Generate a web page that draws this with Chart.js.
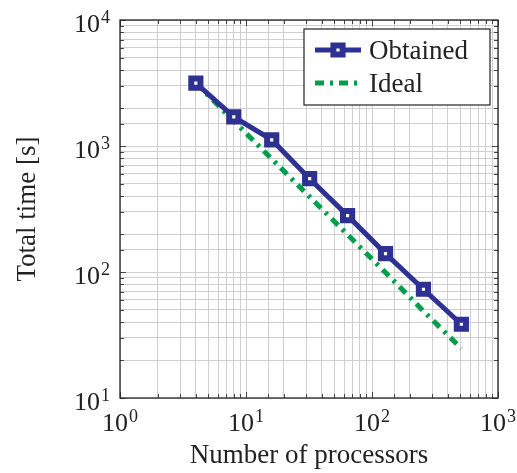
<!DOCTYPE html>
<html>
<head>
<meta charset="utf-8">
<script src="https://cdn.jsdelivr.net/npm/chart.js@4"></script>
<style>
  html, body { margin: 0; padding: 0; background: #fff; }
</style>
</head>
<body>
<canvas id="myChart" width="517" height="473"></canvas>
<script>
// run times (s) for each processor count
const processors = [4, 8, 16, 32, 64, 128, 256, 512];
const obtainedTime = [3160, 1700, 1120, 550, 280, 140, 73, 38.5];
const idealTime = [3160, 1580, 790, 395, 198, 99, 49, 24.7];

// decades that get a 10^n label
const xDecades = [1, 10, 100, 1000];
const yDecades = [10, 100, 1000, 10000];

const BLUE = "rgb(46, 49, 146)";
const GREEN = "rgb(0, 158, 74)";
const FONT = "'Liberation Serif', 'DejaVu Serif', serif";

const toPoints = (ys) => processors.map((p, i) => ({ x: p, y: ys[i] }));

// black frame plus short inward ticks on every side
const framePlugin = {
  id: "frame",
  beforeDatasetsDraw(chart) {
    const { ctx, chartArea: a, scales } = chart;
    ctx.save();
    ctx.strokeStyle = "#444";
    ctx.lineWidth = 1;
    ctx.beginPath();
    scales.x.ticks.forEach((t) => {
      const px = Math.round(scales.x.getPixelForValue(t.value)) + 0.5;
      const len = xDecades.includes(t.value) ? 6 : 4;
      ctx.moveTo(px, a.bottom); ctx.lineTo(px, a.bottom - len);
      ctx.moveTo(px, a.top); ctx.lineTo(px, a.top + len);
    });
    scales.y.ticks.forEach((t) => {
      const py = Math.round(scales.y.getPixelForValue(t.value)) + 0.5;
      const len = yDecades.includes(t.value) ? 6 : 4;
      ctx.moveTo(a.left, py); ctx.lineTo(a.left + len, py);
      ctx.moveTo(a.right, py); ctx.lineTo(a.right - len, py);
    });
    ctx.stroke();
    ctx.strokeStyle = "#222";
    ctx.lineWidth = 1.3;
    ctx.strokeRect(a.left, a.top, a.right - a.left, a.bottom - a.top);
    ctx.restore();
  },
};

// 10^n tick labels with a raised exponent
function drawPower(ctx, x, y, exp, align) {
  ctx.font = "26px " + FONT;
  const baseW = ctx.measureText("10").width;
  ctx.font = "18px " + FONT;
  const supW = ctx.measureText(String(exp)).width;
  const total = baseW + supW + 1;
  let left = x;
  if (align === "center") left = x - total / 2;
  if (align === "right") left = x - total;
  ctx.textAlign = "left";
  ctx.textBaseline = "alphabetic";
  ctx.font = "26px " + FONT;
  ctx.fillText("10", left, y);
  ctx.font = "18px " + FONT;
  ctx.fillText(String(exp), left + baseW + 1, y - 9);
}

const powerLabels = {
  id: "powerLabels",
  afterDraw(chart) {
    const { ctx, chartArea: a, scales } = chart;
    ctx.save();
    ctx.fillStyle = "#222";
    xDecades.forEach((v) => {
      drawPower(ctx, scales.x.getPixelForValue(v), a.bottom + 33, Math.round(Math.log10(v)), "center");
    });
    yDecades.forEach((v) => {
      drawPower(ctx, a.left - 10, scales.y.getPixelForValue(v) + 12, Math.round(Math.log10(v)), "right");
    });
    ctx.restore();
  },
};

// boxed legend in the upper right of the plot
const boxLegend = {
  id: "boxLegend",
  afterDraw(chart) {
    const { ctx } = chart;
    const box = { x: 304, y: 29, w: 186, h: 76 };
    ctx.save();
    ctx.fillStyle = "#fff";
    ctx.fillRect(box.x, box.y, box.w, box.h);
    ctx.strokeStyle = "#222";
    ctx.lineWidth = 1.2;
    ctx.strokeRect(box.x, box.y, box.w, box.h);
    chart.data.datasets.forEach((ds, i) => {
      const cy = box.y + 21 + i * 33;
      ctx.strokeStyle = ds.borderColor;
      ctx.lineWidth = ds.borderWidth;
      ctx.setLineDash(ds.borderDash || []);
      ctx.beginPath();
      ctx.moveTo(box.x + 11, cy);
      ctx.lineTo(box.x + 57, cy);
      ctx.stroke();
      ctx.setLineDash([]);
      if (ds.pointRadius > 0) {
        ctx.fillStyle = ds.pointBackgroundColor;
        ctx.strokeStyle = ds.pointBorderColor;
        ctx.lineWidth = ds.pointBorderWidth;
        Chart.helpers.drawPoint(ctx, {
          pointStyle: ds.pointStyle,
          radius: ds.pointRadius,
          borderWidth: ds.pointBorderWidth,
        }, box.x + 34, cy);
      }
      ctx.fillStyle = "#222";
      ctx.font = "27px " + FONT;
      ctx.textAlign = "left";
      ctx.textBaseline = "alphabetic";
      ctx.fillText(ds.label, box.x + 65, cy + 9);
    });
    ctx.restore();
  },
};

const gridStyle = { color: "#cfcfcf", lineWidth: 1, drawTicks: false };

const config = {
  type: "line",
  data: {
    datasets: [
      {
        label: "Obtained",
        data: toPoints(obtainedTime),
        borderColor: BLUE,
        borderWidth: 5,
        pointStyle: "rect",
        pointRadius: 6.5,
        pointBorderWidth: 6,
        pointBackgroundColor: "#fff",
        pointBorderColor: BLUE,
        tension: 0,
      },
      {
        label: "Ideal",
        data: toPoints(idealTime),
        borderColor: GREEN,
        borderWidth: 5,
        borderDash: [9, 6, 3, 6],
        pointRadius: 0,
        tension: 0,
      },
    ],
  },
  options: {
    responsive: false,
    animation: false,
    layout: { padding: { top: 20, right: 19, left: 0, bottom: 0 } },
    plugins: { legend: { display: false }, tooltip: { enabled: false } },
    scales: {
      x: {
        type: "logarithmic",
        min: 1,
        max: 1000,
        grid: gridStyle,
        border: { display: false },
        ticks: { display: false, autoSkip: false },
        title: {
          display: true,
          text: "Number of processors",
          color: "#222",
          font: { family: FONT, size: 27 },
          padding: { top: 0, bottom: 1 },
        },
        afterFit(s) {
          s.height = 75;
          s.paddingLeft = 0;
          s.paddingRight = 0;
        },
      },
      y: {
        type: "logarithmic",
        min: 10,
        max: 10000,
        grid: gridStyle,
        border: { display: false },
        ticks: { display: false, autoSkip: false },
        title: {
          display: true,
          text: "Total time [s]",
          color: "#222",
          font: { family: FONT, size: 27 },
          padding: { top: 12, bottom: 0 },
        },
        afterFit(s) {
          s.width = 120;
          s.paddingTop = 0;
          s.paddingBottom = 0;
        },
      },
    },
  },
  plugins: [framePlugin, powerLabels, boxLegend],
};

const myChart = new Chart(document.getElementById("myChart"), config);
</script>
</body>
</html>
